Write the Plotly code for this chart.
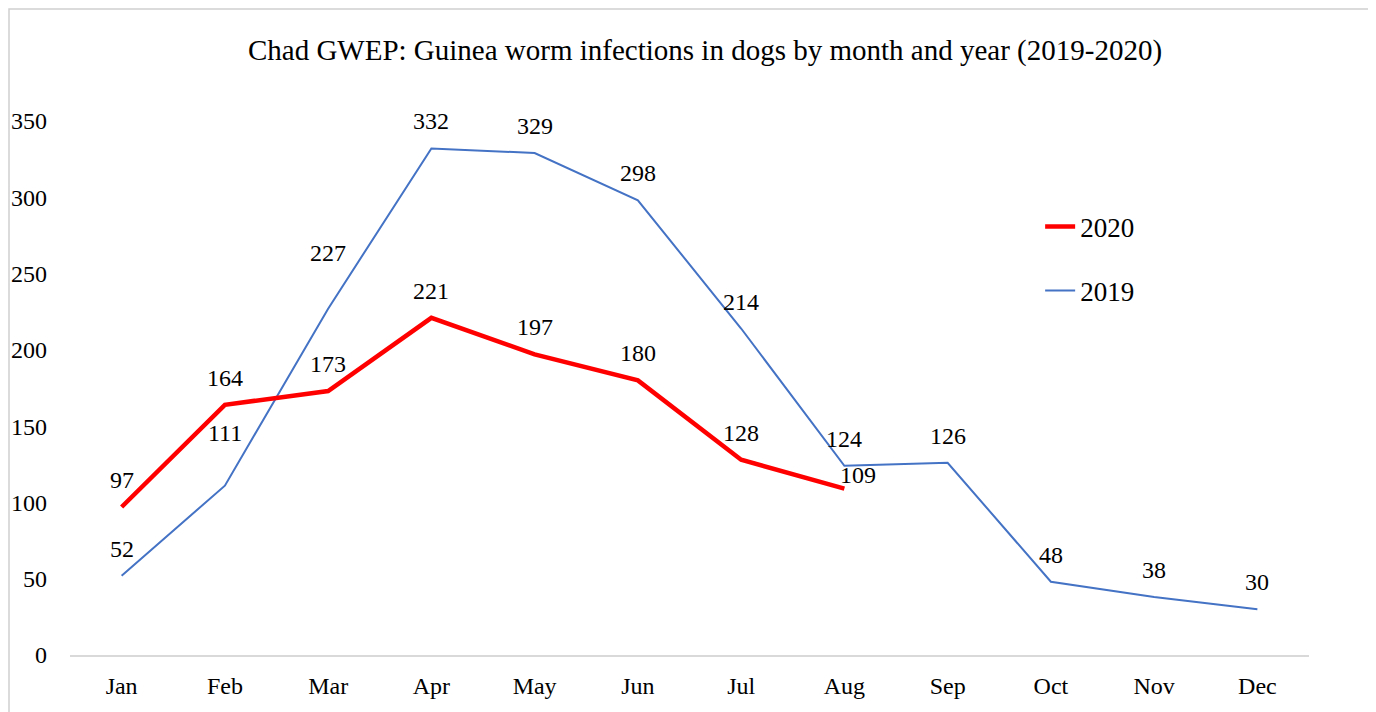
import plotly.graph_objects as go

months = ["Jan", "Feb", "Mar", "Apr", "May", "Jun", "Jul", "Aug", "Sep", "Oct", "Nov", "Dec"]
dogs_2019 = [52, 111, 227, 332, 329, 298, 214, 124, 126, 48, 38, 30]
dogs_2020 = [97, 164, 173, 221, 197, 180, 128, 109]

_FONT = "Liberation Serif, Times New Roman, serif"
_BLUE = "#4472C4"
_RED = "#FF0000"

# label nudges (px) for a few labels that were moved off the lines
_shift_2019 = {"Feb": (0, 53), "Mar": (0, 56)}
_shift_2020 = {"Aug": (14, 14)}

# plot area in figure pixels: left 62, top 113, 1239 x 534
_L, _T, _W, _H = 62, 113, 1239, 534

fig = go.Figure()
fig.add_trace(go.Scatter(
    x=months, y=dogs_2019, mode="lines", name="2019",
    line=dict(color=_BLUE, width=2), legend="legend2",
))
fig.add_trace(go.Scatter(
    x=months[:len(dogs_2020)], y=dogs_2020, mode="lines", name="2020",
    line=dict(color=_RED, width=4.5), legend="legend",
))

annotations = []
for vals, shifts in ((dogs_2019, _shift_2019), (dogs_2020, _shift_2020)):
    for m, v in zip(months, vals):
        dx, dy = shifts.get(m, (0, 27))
        annotations.append(dict(
            x=m, y=v, xref="x", yref="y", text=str(v), showarrow=False,
            xshift=dx, yshift=dy, font=dict(family=_FONT, size=24, color="black"),
        ))

fig.update_layout(
    width=1376, height=712,
    margin=dict(l=_L, r=1376 - _L - _W, t=_T, b=712 - _T - _H),
    showlegend=True,
    paper_bgcolor="white", plot_bgcolor="white",
    font=dict(family=_FONT, color="black"),
    title=dict(
        text="Chad GWEP: Guinea worm infections in dogs by month and year (2019-2020)",
        x=697 / 1376, xanchor="center", y=1 - 42 / 712, yanchor="middle",
        font=dict(family=_FONT, size=29, color="black"),
    ),
    xaxis=dict(
        range=[-0.5, 11.5], showgrid=False, zeroline=False,
        showline=True, linecolor="#d9d9d9", linewidth=1.5, automargin=False,
        ticks="", tickfont=dict(family=_FONT, size=24, color="black"),
        ticklabelstandoff=8,
    ),
    yaxis=dict(
        range=[0, 350], dtick=50, showgrid=False, zeroline=False, automargin=False,
        showline=False, ticks="", tickfont=dict(family=_FONT, size=24, color="black"),
        ticklabelstandoff=22,
    ),
    legend=dict(
        x=0.783, y=0.8015, xanchor="left", yanchor="middle",
        font=dict(family=_FONT, size=27, color="black"), bgcolor="rgba(0,0,0,0)",
    ),
    legend2=dict(
        x=0.783, y=0.6816, xanchor="left", yanchor="middle",
        font=dict(family=_FONT, size=27, color="black"), bgcolor="rgba(0,0,0,0)",
    ),
    annotations=annotations,
    shapes=[dict(
        type="rect", xref="paper", yref="paper",
        x0=(1 - _L) / _W, x1=(1364 - _L) / _W,
        y0=(_T + _H - 720) / _H, y1=(_T + _H - 1) / _H,
        line=dict(color="#d0d0d0", width=1.5), fillcolor="rgba(0,0,0,0)", layer="below",
    )],
)

fig.write_html("out.html")
